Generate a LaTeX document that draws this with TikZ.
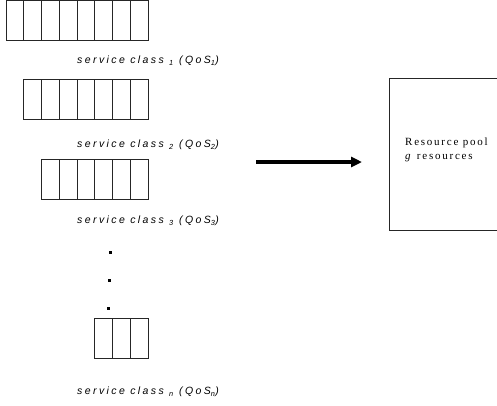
\documentclass[tikz,border=0pt]{standalone}
\usepackage{fontspec}
\newfontfamily\qfont[LetterSpace=23]{Liberation Sans}
\newfontfamily\poolfont[LetterSpace=16]{Liberation Serif}
\usetikzlibrary{arrows.meta}

\tikzset{
  cell/.style={draw=black!85, line width=0.9pt},
  qlabel/.style={anchor=west, inner sep=0pt, font=\qfont\itshape\fontsize{10.5}{12}\selectfont},
  pooltext/.style={anchor=north west, inner sep=0pt, align=left, font=\poolfont\fontsize{11}{13.5}\selectfont},
}

\begin{document}
\begin{tikzpicture}[x=1pt,y=-1pt]
\useasboundingbox (0,0) rectangle (497,405);

% queues: top edge / number of cells, all end at x=148
\foreach \top/\n in {0.5/8, 79.5/7, 159/6, 318/3} {
  \foreach \k in {1,...,\n} {
    \draw[cell] ({148-\k*17.75},\top) rectangle ({148-(\k-1)*17.75},\top+40);
  }
}

\node[qlabel] (cls1) at (77, 61) {service class \textsubscript{1} (QoS\textsubscript{1})};
\node[qlabel] (cls2) at (77,145) {service class \textsubscript{2} (QoS\textsubscript{2})};
\node[qlabel] (cls3) at (77,221) {service class \textsubscript{3} (QoS\textsubscript{3})};
\node[qlabel] (clsn) at (77,392) {service class \textsubscript{\itshape n} (QoS\textsubscript{\itshape n})};

% dots between class 3 and class n
\foreach \x/\y in {110.5/252, 109.5/280, 108.5/308} {
  \fill (\x-1.5,\y-1.5) rectangle +(3,3);
}

% arrow towards the pool
\coordinate (tail) at (256,162);
\coordinate (head) at (362,162);
\draw[line width=3.5pt, -{Triangle[length=11pt,width=10pt]}] (tail) -- (head);

% resource pool
\draw[cell] (389,78) rectangle (500,230);
\node[pooltext] (pool) at (405,138) {Resource pool\\\textit{g} resources};

\end{tikzpicture}
\end{document}
